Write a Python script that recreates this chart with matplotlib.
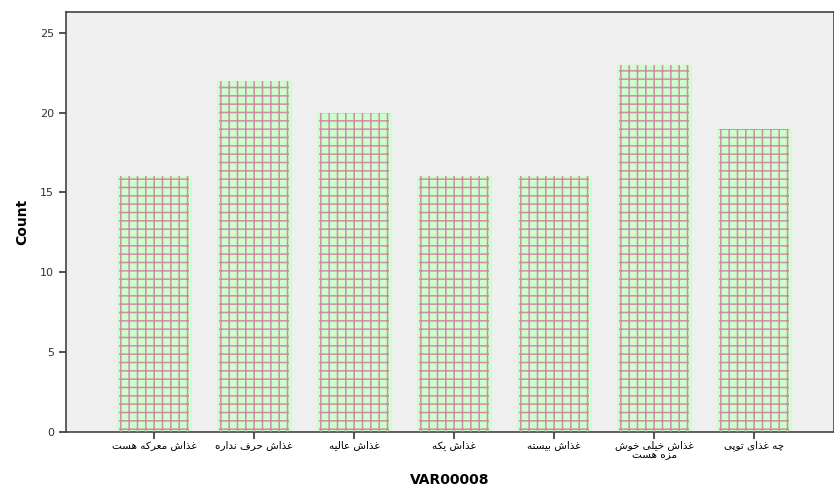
import matplotlib.pyplot as plt
import numpy as np
import unicodedata

labels = ['غذاش معرکه هست', 'غذاش حرف نداره', 'غذاش عالیه', 'غذاش یکه',
          'غذاش بیسته', 'غذاش خیلی خوش\nمزه هست', 'چه غذای توپی']
counts = [16, 22, 20, 16, 16, 23, 19]
yticks = [0, 5, 10, 15, 20, 25]


def form(ch, kind):
    try:
        return unicodedata.lookup(unicodedata.name(ch) + ' ' + kind + ' FORM')
    except (KeyError, ValueError):
        return None


def joins_next(ch):
    return ch is not None and form(ch, 'INITIAL') is not None


def is_letter(ch):
    return ch is not None and form(ch, 'ISOLATED') is not None


def shape_word(line):
    # poor man's arabic shaping + right-to-left
    out = []
    for i, ch in enumerate(line):
        if not is_letter(ch):
            out.append(ch)
            continue
        prev = line[i - 1] if i > 0 else None
        nxt = line[i + 1] if i + 1 < len(line) else None
        a = joins_next(prev)
        b = joins_next(ch) and is_letter(nxt)
        if a and b:
            f = form(ch, 'MEDIAL')
        elif a:
            f = form(ch, 'FINAL')
        elif b:
            f = form(ch, 'INITIAL')
        else:
            f = form(ch, 'ISOLATED')
        out.append(f or ch)
    return ''.join(out)[::-1]


def shape(s):
    return '\n'.join(shape_word(l) for l in s.split('\n'))


fig = plt.figure(figsize=(8.34, 4.86), dpi=100)
ax = fig.add_axes([66 / 834, 54 / 486, 1 - 66 / 834, 420 / 486])
ax.set_facecolor('#f0f0f0')

x = np.arange(len(counts))
ax.bar(x, counts, width=0.74, color='#ccffcc', edgecolor='#ccffcc', linewidth=1, zorder=2)
plt.rcParams['hatch.linewidth'] = 1.1
ax.bar(x, counts, width=0.70, color='none', edgecolor='#d38aa8', hatch='++', linewidth=0, zorder=3)

ax.set_xlim(-0.88, 6.80)
ax.set_ylim(0, 26.3)
ax.set_yticks(yticks)
ax.set_xticks(x)
ax.set_xticklabels([shape(l) for l in labels], fontsize=7.5, family='DejaVu Sans', linespacing=1.0)
ax.tick_params(axis='both', direction='out', length=5, width=1.2, colors='#333333', labelsize=8)
ax.tick_params(axis='x', labelsize=7.5, pad=1, labelcolor='black')
for s in ax.spines.values():
    s.set_color('#444444')
    s.set_linewidth(1.2)

ax.set_ylabel('Count', fontsize=10, fontweight='bold', labelpad=8)
ax.set_xlabel('VAR00008', fontsize=10, fontweight='bold', labelpad=9)

fig.savefig('out.png', dpi=100)
